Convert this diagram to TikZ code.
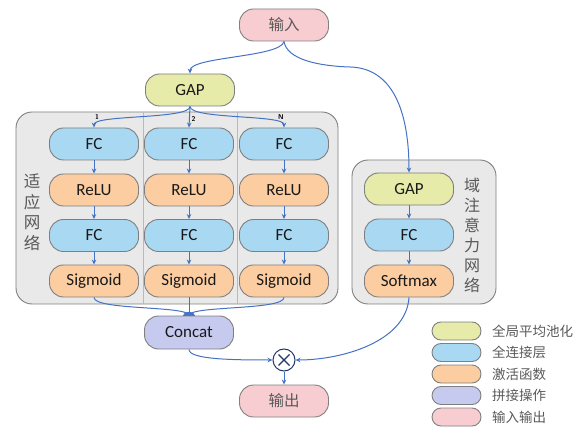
\documentclass[tikz,border=0pt]{standalone}
\usepackage{fontspec}
\setmainfont{Carlito}
\newfontfamily\cjk{Noto Sans CJK SC}
\usetikzlibrary{arrows.meta,calc}

\definecolor{gapc}{HTML}{E6EBA9}
\definecolor{fcc}{HTML}{A9D9F2}
\definecolor{actc}{HTML}{FCCDA0}
\definecolor{catc}{HTML}{C6CAEF}
\definecolor{ioc}{HTML}{F8CDD1}
\definecolor{panel}{HTML}{E9E9E9}
\definecolor{edge}{HTML}{7F7F7F}
\definecolor{link}{HTML}{4472C4}
\definecolor{txt}{HTML}{595959}
\definecolor{divider}{HTML}{A9BADB}
\definecolor{navy}{HTML}{1F3864}

\begin{document}
\begin{tikzpicture}[x=1pt,y=-1pt,
  blk/.style={draw=edge, line width=0.9pt, rounded corners=14pt,
    minimum width=89pt, minimum height=32pt, inner sep=0pt,
    text=black!90, font=\fontsize{17}{18}\selectfont},
  gapbox/.style={blk, fill=gapc},
  fcbox/.style={blk, fill=fcc},
  actbox/.style={blk, fill=actc},
  catbox/.style={blk, fill=catc},
  iobox/.style={blk, fill=ioc, text=txt, font=\cjk\fontsize{15.5}{18}\selectfont},
  panelbox/.style={draw=edge, fill=panel, line width=0.9pt, rounded corners=16pt},
  arr/.style={draw=link, line width=1pt, -{Stealth[length=5pt,width=4.5pt]}},
  wire/.style={draw=link, line width=1pt},
  legbox/.style={draw=edge, line width=0.9pt, rounded corners=9pt,
    minimum width=49pt, minimum height=18pt, inner sep=0pt},
  legtext/.style={anchor=west, inner sep=0pt, text=txt,
    font=\cjk\fontsize{13.5}{16}\selectfont},
  sidelabel/.style={align=center, inner sep=0pt, text=txt},
  idx/.style={inner sep=0pt, font=\sffamily\bfseries\fontsize{7}{8}\selectfont},
]
\useasboundingbox (0,0) rectangle (583,427);

% background panels of the two branches
\draw[panelbox] (16,112) rectangle (338,304);
\draw[panelbox] (352,160) rectangle (496,304);
\draw[divider, line width=0.6pt] (143,112) -- (143,304);
\draw[divider, line width=0.6pt] (237,112) -- (237,304);

% input and the shared pooling
\node[iobox] (in) at (284,25) {输入};
\node[gapbox] (gap) at (190,90) {GAP};

% three adaptation columns
\foreach \c/\x in {a/94,b/189,c/284}{
  \node[fcbox]  (fca\c) at (\x,144) {FC};
  \node[actbox] (re\c)  at (\x,190) {ReLU};
  \node[fcbox]  (fcb\c) at (\x,235.5) {FC};
  \node[actbox] (sg\c)  at (\x,281) {Sigmoid};
  \draw[arr] (fca\c) -- (re\c);
  \draw[arr] (re\c) -- (fcb\c);
  \draw[arr] (fcb\c) -- (sg\c);
}

% domain attention branch
\node[gapbox] (gap2) at (409,189) {GAP};
\node[fcbox]  (fc2)  at (409,235) {FC};
\node[actbox] (soft) at (409,281) {Softmax};
\draw[arr] (gap2) -- (fc2);
\draw[arr] (fc2) -- (soft);

% side captions
\node[sidelabel, font=\cjk\fontsize{16.5}{20.5}\selectfont] (capl) at (32,212) {适\\应\\网\\络};
\node[sidelabel, font=\cjk\fontsize{16}{20}\selectfont] (capr) at (472,235) {域\\注\\意\\力\\网\\络};

% fan-out from GAP
\draw[arr] (gap.south) .. controls +(0,13) and +(0,-13) .. (fcaa.north);
\draw[arr] (gap.south) -- (fcab.north);
\draw[arr] (gap.south) .. controls +(0,13) and +(0,-13) .. (fcac.north);
\node[idx] (n1) at (97,117) {1};
\node[idx] (n2) at (193.5,118.5) {2};
\node[idx] (nN) at (281,117) {N};

% input to both branches
\draw[arr] (in.south) .. controls +(-3,16) and +(0,-17) .. (gap.north);
\coordinate (bend) at (350,67);
\draw[arr] (in.south) .. controls +(3,18) and (318,66) .. (bend)
  .. controls (392,68) and (409,110) .. (gap2.north);

% merge into Concat
\coordinate (join) at (189,315.5);
\draw[wire] (sga.south) .. controls +(0,13) and +(0,-10) .. (join);
\draw[wire] (sgb.south) -- (join);
\draw[wire] (sgc.south) .. controls +(0,13) and +(0,-10) .. (join);
\fill[link] (join) ellipse (6pt and 3.5pt);
\node[catbox, minimum height=33pt] (cat) at (189,332.5) {Concat};

% product and output
\node[circle, draw=navy, fill=white, line width=1pt, minimum size=22pt, inner sep=0pt] (mul) at (284,360) {};
\draw[navy, line width=1.1pt] ($(mul.center)+(-5.5,-5.5)$) -- ($(mul.center)+(5.5,5.5)$);
\draw[navy, line width=1.1pt] ($(mul.center)+(-5.5,5.5)$) -- ($(mul.center)+(5.5,-5.5)$);
\node[iobox] (out) at (284,401) {输出};

\draw[arr] (cat.south) .. controls +(0,10) and +(-40,0) .. (mul.west);
\draw[arr] (soft.south) .. controls +(-3,45) and +(45,0) .. (mul.east);
\draw[arr] (mul.south) -- (out.north);

% legend
\node[legbox, fill=gapc] (lg1) at (456.5,331) {};
\node[legbox, fill=fcc]  (lg2) at (456.5,352.5) {};
\node[legbox, fill=actc] (lg3) at (456.5,374) {};
\node[legbox, fill=catc] (lg4) at (456.5,395.5) {};
\node[legbox, fill=ioc]  (lg5) at (456.5,417) {};
\node[legtext] (lt1) at (492,331) {全局平均池化};
\node[legtext] (lt2) at (492,352.5) {全连接层};
\node[legtext] (lt3) at (492,374) {激活函数};
\node[legtext] (lt4) at (492,395.5) {拼接操作};
\node[legtext] (lt5) at (492,417) {输入输出};
\end{tikzpicture}
\end{document}
